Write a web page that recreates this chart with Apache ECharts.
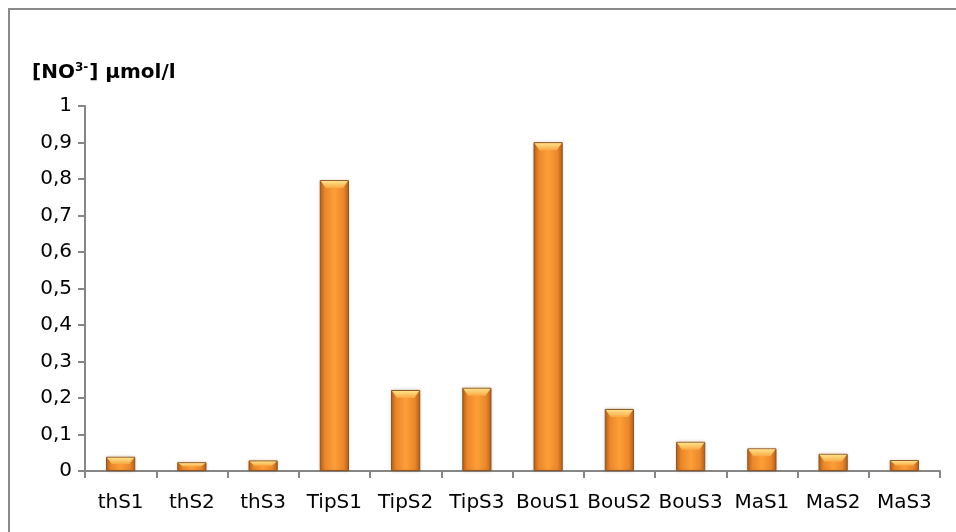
<!DOCTYPE html>
<html>
<head>
<meta charset="utf-8">
<script src="https://cdn.jsdelivr.net/npm/echarts@6/dist/echarts.min.js"></script>
<style>
  html, body { margin: 0; padding: 0; background: #fff; }
  #chart { width: 956px; height: 532px; }
</style>
</head>
<body>
<div id="chart"></div>
<script>
// Sampling stations
const stations = ['thS1', 'thS2', 'thS3', 'TipS1', 'TipS2', 'TipS3', 'BouS1', 'BouS2', 'BouS3', 'MaS1', 'MaS2', 'MaS3'];
// Nitrate concentration, µmol/l
const nitrate = [0.039, 0.024, 0.029, 0.797, 0.222, 0.228, 0.901, 0.170, 0.080, 0.062, 0.047, 0.030];
// Value axis range
const yMin = 0;
const yMax = 1;
const yStep = 0.1;

const FONT = 'DejaVu Sans';
const BAR_RATIO = 0.41;
const chart = echarts.init(document.getElementById('chart'), null, { renderer: 'canvas' });

const barFill = new echarts.graphic.LinearGradient(0, 0, 1, 0, [
  { offset: 0, color: '#b5601b' },
  { offset: 0.18, color: '#ea872b' },
  { offset: 0.5, color: '#fd9f38' },
  { offset: 0.82, color: '#ea872b' },
  { offset: 1, color: '#b5601b' }
]);

// Light bevel drawn across the top of each bar
function renderBevel(params, api) {
  const v = api.value(1);
  const top = api.coord([api.value(0), v]);
  const base = api.coord([api.value(0), 0]);
  const w = api.size([1, 0])[0] * BAR_RATIO;
  const x0 = top[0] - w / 2 + 1;
  const x1 = top[0] + w / 2 - 1;
  const h = Math.min(8, Math.max(2, (base[1] - top[1]) * 0.5));
  const inset = Math.min(5, w * 0.18);
  return {
    type: 'polygon',
    shape: {
      points: [[x0, top[1] + 1], [x1, top[1] + 1], [x1 - inset, top[1] + h], [x0 + inset, top[1] + h]]
    },
    style: {
      fill: new echarts.graphic.LinearGradient(0, 0, 0, 1, [
        { offset: 0, color: '#ffe28a' },
        { offset: 1, color: '#f9a843' }
      ])
    },
    silent: true
  };
}

chart.setOption({
  animation: false,
  backgroundColor: '#ffffff',
  textStyle: { fontFamily: FONT },
  graphic: [
    {
      type: 'rect',
      shape: { x: 9, y: 9, width: 1000, height: 600 },
      style: { fill: 'none', stroke: '#8a8a8a', lineWidth: 2 },
      silent: true
    },
    {
      type: 'text',
      left: 32,
      top: 62,
      style: {
        text: '{b|[NO}{s|3-}{b|] µmol/l}',
        rich: {
          b: { fontFamily: FONT, fontWeight: 'bold', fontSize: 20, fill: '#000' },
          s: { fontFamily: FONT, fontWeight: 'bold', fontSize: 12, fill: '#000', verticalAlign: 'top', padding: [0, 1, 9, 0] }
        }
      }
    }
  ],
  grid: { left: 85, right: 16, top: 106, bottom: 61, containLabel: false },
  xAxis: {
    type: 'category',
    data: stations,
    axisLine: { lineStyle: { color: '#868686', width: 2 } },
    axisTick: { show: true, length: 7, lineStyle: { color: '#868686', width: 2 } },
    axisLabel: { interval: 0, color: '#000', fontFamily: FONT, fontSize: 20, margin: 22 }
  },
  yAxis: {
    type: 'value',
    min: yMin,
    max: yMax,
    interval: yStep,
    splitLine: { show: false },
    axisLine: { show: true, lineStyle: { color: '#868686', width: 2 } },
    axisTick: { show: true, length: 7, lineStyle: { color: '#868686', width: 2 } },
    axisLabel: {
      color: '#000',
      fontFamily: FONT,
      fontSize: 20,
      margin: 13,
      formatter: v => String(Math.round(v * 10) / 10).replace('.', ',')
    }
  },
  series: [
    {
      type: 'bar',
      data: nitrate,
      barWidth: (BAR_RATIO * 100) + '%',
      itemStyle: {
        color: barFill,
        borderColor: '#8d5526',
        borderWidth: 1,
        shadowColor: 'rgba(120,70,20,0.25)',
        shadowBlur: 3
      }
    },
    {
      type: 'custom',
      data: nitrate.map((v, i) => [i, v]),
      renderItem: renderBevel,
      z: 3
    }
  ]
});
</script>
</body>
</html>
